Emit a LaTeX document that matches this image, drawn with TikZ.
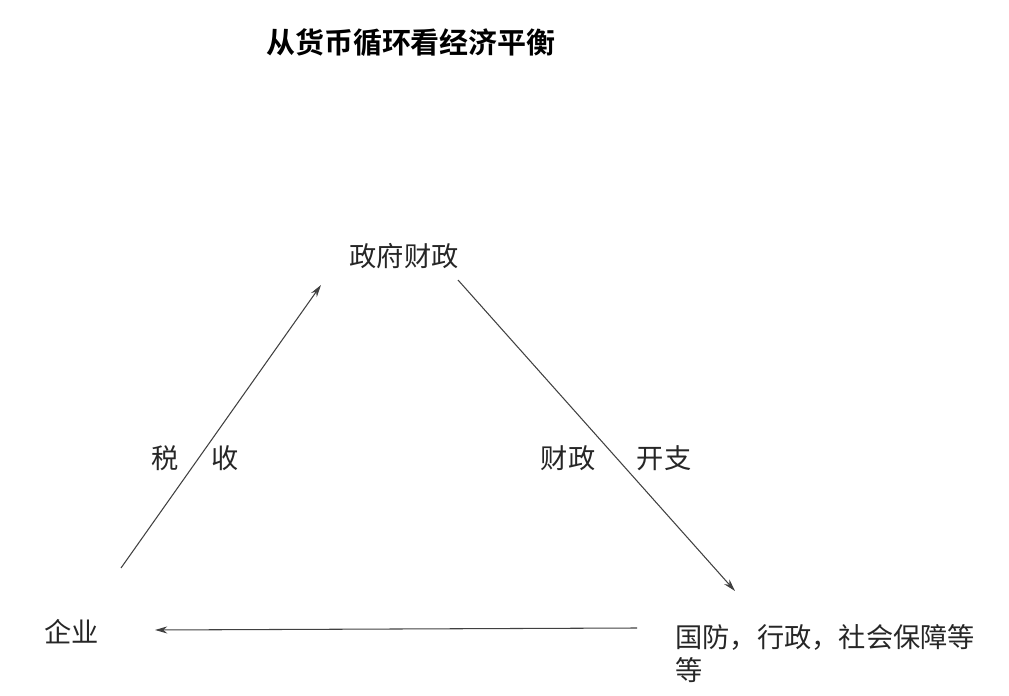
\documentclass[tikz,border=0pt]{standalone}
\usepackage{fontspec}
\setmainfont{Noto Sans CJK SC}
\newfontfamily\cjkbold{Noto Sans CJK SC Bold}
\usetikzlibrary{arrows.meta}

\begin{document}
\begin{tikzpicture}[
            x = 0.02cm, y = -0.02cm, % one unit per pixel
            > = {Stealth[length=7pt,width=4pt]}, % arrow head style
            line width = 0.6pt, % line style
            every node/.style = {text = black!85, font = \fontsize{15.5}{19}\selectfont}
        ]

        \tikzstyle{flow}=[
            draw = black!75,
            ->
        ]
        \tikzstyle{txt}=[
            inner sep = 0pt
        ]

        \useasboundingbox (0,0) rectangle (1009,696);

        \node[txt, text = black, font = \fontsize{16.5}{19}\cjkbold] (title) at (411,43) {从货币循环看经济平衡};

        \node[txt] (gov) at (404,256) {政府财政};
        \node[txt] (firm) at (72,632) {企业};
        \node[txt, anchor = north west, align = left] (spend) at (675,624) {国防，行政，社会保障等\\等};

        \coordinate (tax s) at (121,568);
        \coordinate (tax e) at (321,285);
        \coordinate (pay s) at (458,280);
        \coordinate (pay e) at (735,591);
        \coordinate (back s) at (637,628);
        \coordinate (back e) at (155,630);

        \draw[flow] (tax s) -- (tax e);
        \draw[flow] (pay s) -- (pay e);
        \draw[flow] (back s) -- (back e);

        \node[txt] (tax a) at (165,458) {税};
        \node[txt] (tax b) at (225,458) {收};
        \node[txt] (pay a) at (568,458) {财政};
        \node[txt] (pay b) at (664,458) {开支};

  \end{tikzpicture}
\end{document}
